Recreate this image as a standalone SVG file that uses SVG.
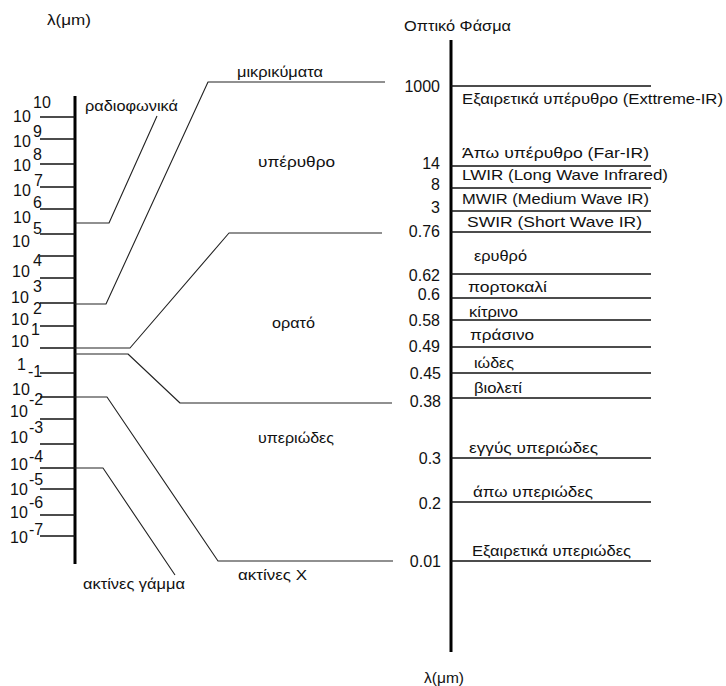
<svg xmlns="http://www.w3.org/2000/svg" width="726" height="686" viewBox="0 0 726 686">
<style>
  text { font-family: "Liberation Sans", Arial, sans-serif; fill: #111; }
  .num { font-size: 16px; }
  .lbl { font-size: 15px; }
  .axis { stroke: #000; stroke-width: 3; fill: none; }
  .tick { stroke: #111; stroke-width: 1.6; fill: none; }
  .conn { stroke: #222; stroke-width: 1.1; fill: none; stroke-linejoin: round; }
  .end { text-anchor: end; }
</style>
<rect width="726" height="686" fill="#fff"/>

<g id="left-scale">
  <line class="axis" x1="75" y1="96" x2="75" y2="564"/>
  <g id="left-ticks">
    <line class="tick" x1="40" y1="117" x2="75" y2="117"/>
    <line class="tick" x1="40" y1="139" x2="75" y2="139"/>
    <line class="tick" x1="40" y1="164" x2="75" y2="164"/>
    <line class="tick" x1="40" y1="187" x2="75" y2="187"/>
    <line class="tick" x1="40" y1="209" x2="75" y2="209"/>
    <line class="tick" x1="40" y1="234" x2="75" y2="234"/>
    <line class="tick" x1="40" y1="256" x2="75" y2="256"/>
    <line class="tick" x1="40" y1="278" x2="75" y2="278"/>
    <line class="tick" x1="40" y1="303" x2="75" y2="303"/>
    <line class="tick" x1="40" y1="326" x2="75" y2="326"/>
    <line class="tick" x1="40" y1="348" x2="75" y2="348"/>
    <line class="tick" x1="40" y1="373" x2="75" y2="373"/>
    <line class="tick" x1="40" y1="397" x2="75" y2="397"/>
    <line class="tick" x1="40" y1="419" x2="75" y2="419"/>
    <line class="tick" x1="40" y1="444" x2="75" y2="444"/>
    <line class="tick" x1="40" y1="468" x2="75" y2="468"/>
    <line class="tick" x1="40" y1="489" x2="75" y2="489"/>
    <line class="tick" x1="40" y1="515" x2="75" y2="515"/>
    <line class="tick" x1="40" y1="536" x2="75" y2="536"/>
  </g>
  <g id="left-labels" class="num">
    <text x="13" y="122">10</text><text x="33" y="108">10</text>
    <text x="13" y="147">10</text><text x="33" y="137">9</text>
    <text x="13" y="171">10</text><text x="33" y="160">8</text>
    <text x="13" y="196">10</text><text x="34" y="186">7</text>
    <text x="13" y="223">10</text><text x="33" y="208">6</text>
    <text x="12" y="247">10</text><text x="33" y="234">5</text>
    <text x="12" y="277">10</text><text x="33" y="266">4</text>
    <text x="11" y="303">10</text><text x="33" y="292">3</text>
    <text x="11" y="325">10</text><text x="33" y="314">2</text>
    <text x="11" y="347">10</text><text x="31" y="335">1</text>
    <text x="17" y="370">1</text>
    <text x="12" y="395">10</text><text x="28" y="377">-1</text>
    <text x="10" y="417">10</text><text x="29" y="405">-2</text>
    <text x="10" y="443">10</text><text x="29" y="433">-3</text>
    <text x="10" y="470">10</text><text x="29" y="462">-4</text>
    <text x="10" y="495">10</text><text x="29" y="485">-5</text>
    <text x="10" y="518">10</text><text x="29" y="508">-6</text>
    <text x="10" y="543">10</text><text x="29" y="535">-7</text>
  </g>
  <text id="left-unit" class="lbl" x="47" y="25" textLength="44" lengthAdjust="spacingAndGlyphs">λ(μm)</text>
</g>

<g id="right-scale">
  <text id="right-title" class="lbl" x="404" y="31" textLength="107" lengthAdjust="spacingAndGlyphs">Οπτικό Φάσμα</text>
  <line class="axis" x1="451" y1="40" x2="451" y2="652"/>
  <g id="right-lines">
    <line class="tick" x1="451" y1="86" x2="651" y2="86"/>
    <line class="tick" x1="451" y1="166" x2="651" y2="166"/>
    <line class="tick" x1="451" y1="188" x2="651" y2="188"/>
    <line class="tick" x1="451" y1="211" x2="651" y2="211"/>
    <line class="tick" x1="451" y1="232" x2="651" y2="232"/>
    <line class="tick" x1="451" y1="274" x2="651" y2="274"/>
    <line class="tick" x1="451" y1="298" x2="651" y2="298"/>
    <line class="tick" x1="451" y1="320" x2="651" y2="320"/>
    <line class="tick" x1="451" y1="347" x2="651" y2="347"/>
    <line class="tick" x1="451" y1="373" x2="651" y2="373"/>
    <line class="tick" x1="451" y1="398" x2="651" y2="398"/>
    <line class="tick" x1="451" y1="458" x2="651" y2="458"/>
    <line class="tick" x1="451" y1="502" x2="651" y2="502"/>
    <line class="tick" x1="451" y1="561" x2="651" y2="561"/>
  </g>
  <g id="right-values" class="num end">
    <text x="440" y="92">1000</text>
    <text x="440" y="169">14</text>
    <text x="440" y="190">8</text>
    <text x="440" y="213">3</text>
    <text x="440" y="237">0.76</text>
    <text x="440" y="281">0.62</text>
    <text x="440" y="300">0.6</text>
    <text x="440" y="326">0.58</text>
    <text x="440" y="352">0.49</text>
    <text x="441" y="379">0.45</text>
    <text x="441" y="407">0.38</text>
    <text x="441" y="464">0.3</text>
    <text x="441" y="509">0.2</text>
    <text x="441" y="567">0.01</text>
  </g>
  <g id="right-bands" class="lbl">
    <text x="462" y="104" textLength="261" lengthAdjust="spacingAndGlyphs">Εξαιρετικά υπέρυθρο (Exttreme-IR)</text>
    <text x="462" y="158" textLength="187" lengthAdjust="spacingAndGlyphs">Άπω υπέρυθρο (Far-IR)</text>
    <text x="462" y="180" textLength="206" lengthAdjust="spacingAndGlyphs">LWIR (Long Wave Infrared)</text>
    <text x="462" y="204" textLength="187" lengthAdjust="spacingAndGlyphs">MWIR (Medium Wave IR)</text>
    <text x="467" y="227" textLength="175" lengthAdjust="spacingAndGlyphs">SWIR (Short Wave IR)</text>
    <text x="474" y="261" textLength="53" lengthAdjust="spacingAndGlyphs">ερυθρό</text>
    <text x="468" y="292" textLength="79" lengthAdjust="spacingAndGlyphs">πορτοκαλί</text>
    <text x="469" y="317" textLength="49" lengthAdjust="spacingAndGlyphs">κίτρινο</text>
    <text x="470" y="340" textLength="64" lengthAdjust="spacingAndGlyphs">πράσινο</text>
    <text x="474" y="368" textLength="40" lengthAdjust="spacingAndGlyphs">ιώδες</text>
    <text x="474" y="393" textLength="48" lengthAdjust="spacingAndGlyphs">βιολετί</text>
    <text x="469" y="453" textLength="129" lengthAdjust="spacingAndGlyphs">εγγύς υπεριώδες</text>
    <text x="473" y="497" textLength="120" lengthAdjust="spacingAndGlyphs">άπω υπεριώδες</text>
    <text x="472" y="556" textLength="159" lengthAdjust="spacingAndGlyphs">Εξαιρετικά υπεριώδες</text>
  </g>
  <text id="right-unit" class="lbl" x="424" y="683" textLength="40" lengthAdjust="spacingAndGlyphs">λ(μm)</text>
</g>

<g id="region-labels" class="lbl">
  <text id="lbl-radio" x="85" y="111" textLength="93" lengthAdjust="spacingAndGlyphs">ραδιοφωνικά</text>
  <text id="lbl-micro" x="237" y="77" textLength="86" lengthAdjust="spacingAndGlyphs">μικρικύματα</text>
  <text id="lbl-ir" x="258" y="167" textLength="77" lengthAdjust="spacingAndGlyphs">υπέρυθρο</text>
  <text id="lbl-vis" x="272" y="328" textLength="43" lengthAdjust="spacingAndGlyphs">ορατό</text>
  <text id="lbl-uv" x="258" y="443" textLength="76" lengthAdjust="spacingAndGlyphs">υπεριώδες</text>
  <text id="lbl-xray" x="238" y="580" textLength="69" lengthAdjust="spacingAndGlyphs">ακτίνες X</text>
  <text id="lbl-gamma" x="83" y="589" textLength="102" lengthAdjust="spacingAndGlyphs">ακτίνες γάμμα</text>
</g>

<g id="connectors">
  <polyline class="conn" points="75,223 109,223 157,116"/>
  <polyline class="conn" points="75,304 106,304 208,82 385,82"/>
  <polyline class="conn" points="75,348 130,348 229,233 382,233"/>
  <polyline class="conn" points="75,354 128,354 180,403 392,403"/>
  <polyline class="conn" points="75,397 107,397 218,561 393,561"/>
  <polyline class="conn" points="75,468 103,468 175,575"/>
</g>
</svg>
